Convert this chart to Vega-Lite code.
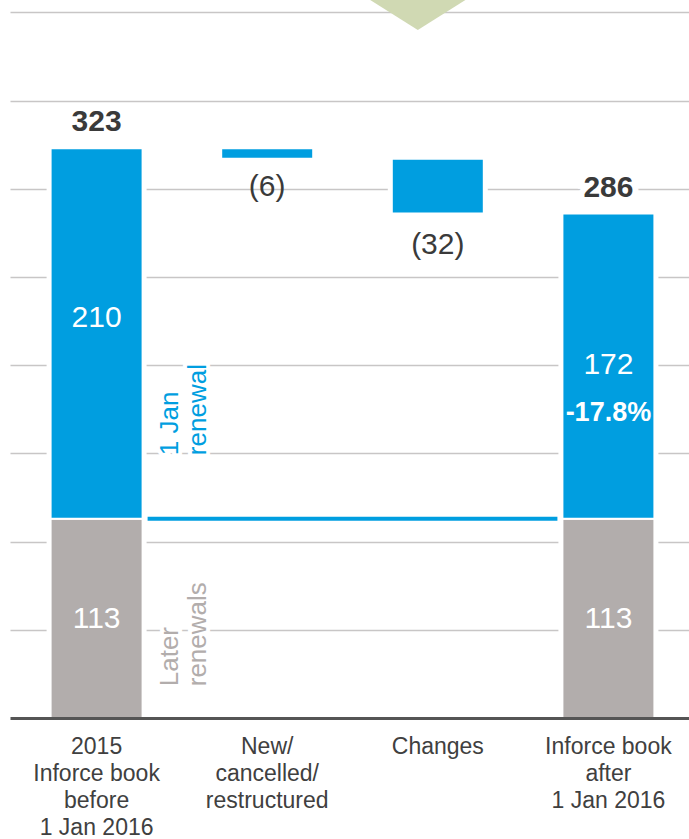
{
  "$schema": "https://vega.github.io/schema/vega-lite/v6.json",
  "width": 679,
  "height": 718,
  "autosize": {"type": "none"},
  "padding": {"left": 10, "top": 0, "right": 0, "bottom": 121},
  "background": "white",
  "config": {"view": {"stroke": null}, "font": "Liberation Sans"},
  "datasets": {
    "bars": [
      {"cat": "2015|Inforce book|before|1 Jan 2016", "part": "Later renewals", "start": 0, "end": 113},
      {"cat": "2015|Inforce book|before|1 Jan 2016", "part": "1 Jan renewal", "start": 113, "end": 323},
      {"cat": "New/|cancelled/|restructured", "part": "1 Jan renewal", "start": 317, "end": 323},
      {"cat": "Changes", "part": "1 Jan renewal", "start": 286, "end": 317},
      {"cat": "Inforce book|after|1 Jan 2016", "part": "Later renewals", "start": 0, "end": 113},
      {"cat": "Inforce book|after|1 Jan 2016", "part": "1 Jan renewal", "start": 113, "end": 286}
    ],
    "labels": [
      {"cat": "2015|Inforce book|before|1 Jan 2016", "text": "323", "at": 338, "style": "darkbold"},
      {"cat": "Inforce book|after|1 Jan 2016", "text": "286", "at": 300.5, "style": "darkbold"},
      {"cat": "New/|cancelled/|restructured", "text": "(6)", "at": 301, "style": "dark"},
      {"cat": "Changes", "text": "(32)", "at": 268, "style": "dark"},
      {"cat": "2015|Inforce book|before|1 Jan 2016", "text": "210", "at": 227, "style": "white"},
      {"cat": "2015|Inforce book|before|1 Jan 2016", "text": "113", "at": 56, "style": "white"},
      {"cat": "Inforce book|after|1 Jan 2016", "text": "172", "at": 200, "style": "white"},
      {"cat": "Inforce book|after|1 Jan 2016", "text": "113", "at": 56, "style": "white"},
      {"cat": "Inforce book|after|1 Jan 2016", "text": "-17.8%", "at": 173, "style": "whitebold"}
    ],
    "side": [
      {"cat": "2015|Inforce book|before|1 Jan 2016", "text": "1 Jan\nrenewal", "at": 149, "part": "1 Jan renewal"},
      {"cat": "2015|Inforce book|before|1 Jan 2016", "text": "Later\nrenewals", "at": 18, "part": "Later renewals"}
    ],
    "link": [
      {"from": "2015|Inforce book|before|1 Jan 2016", "to": "Inforce book|after|1 Jan 2016", "v": 113}
    ],
    "marker": [
      {"cat": "Changes", "at": 390}
    ]
  },
  "encoding": {
    "x": {
      "field": "cat",
      "type": "nominal",
      "scale": {
        "domain": ["2015|Inforce book|before|1 Jan 2016", "New/|cancelled/|restructured", "Changes", "Inforce book|after|1 Jan 2016"],
        "paddingInner": 0.46,
        "paddingOuter": 0.22,
        "align": 0.54
      },
      "axis": {
        "title": null,
        "orient": "bottom",
        "domain": true,
        "domainColor": "#555555",
        "domainWidth": 3,
        "ticks": false,
        "labelAngle": 0,
        "labelFontSize": 23,
        "labelColor": "#404040",
        "labelPadding": 17,
        "labelLineHeight": 27,
        "labelLimit": 300,
        "labelBaseline": "top",
        "labelExpr": "split(datum.value, '|')",
        "zindex": 1
      }
    }
  },
  "layer": [
    {
      "data": {"name": "bars"},
      "mark": {"type": "bar", "width": 100, "fill": "white"},
      "encoding": {
        "y": {
          "field": "start",
          "type": "quantitative",
          "scale": {"domain": [0, 407], "nice": false, "zero": true},
          "axis": {
            "title": null,
            "domain": false,
            "ticks": false,
            "labels": false,
            "grid": true,
            "values": [50, 100, 150, 200, 250, 300, 350, 400],
            "gridColor": "#c8c6c6",
            "gridWidth": 1.5
          }
        },
        "y2": {"field": "end"}
      }
    },
    {
      "data": {"name": "bars"},
      "mark": {"type": "bar", "width": 92, "stroke": "white", "strokeWidth": 2},
      "encoding": {
        "y": {"field": "start", "type": "quantitative"},
        "y2": {"field": "end"},
        "color": {
          "field": "part",
          "type": "nominal",
          "scale": {"domain": ["1 Jan renewal", "Later renewals"], "range": ["#009ee0", "#b2adac"]},
          "legend": null
        }
      }
    },
    {
      "data": {"name": "link"},
      "mark": {"type": "rule", "stroke": "#009ee0", "strokeWidth": 4, "strokeCap": "butt", "xOffset": 51, "x2Offset": -51},
      "encoding": {
        "x": {"field": "from", "type": "nominal"},
        "x2": {"field": "to"},
        "y": {"field": "v", "type": "quantitative"}
      }
    },
    {
      "data": {"name": "side"},
      "mark": {"type": "text", "angle": 270, "align": "left", "baseline": "top", "lineBreak": "\n", "lineHeight": 28, "fontSize": 26, "xOffset": 60, "fill": "white", "stroke": "white", "strokeWidth": 8},
      "encoding": {
        "y": {"field": "at", "type": "quantitative"},
        "text": {"field": "text"}
      }
    },
    {
      "data": {"name": "side"},
      "mark": {"type": "text", "angle": 270, "align": "left", "baseline": "top", "lineBreak": "\n", "lineHeight": 28, "fontSize": 26, "xOffset": 60},
      "encoding": {
        "y": {"field": "at", "type": "quantitative"},
        "text": {"field": "text"},
        "color": {"field": "part", "type": "nominal"}
      }
    },
    {
      "data": {"name": "labels"},
      "transform": [{"filter": "datum.style == 'darkbold'"}],
      "mark": {"type": "text", "fontSize": 30, "fontWeight": "bold", "baseline": "middle", "fill": "white", "stroke": "white", "strokeWidth": 12},
      "encoding": {
        "y": {"field": "at", "type": "quantitative"},
        "text": {"field": "text"}
      }
    },
    {
      "data": {"name": "labels"},
      "transform": [{"filter": "datum.style == 'darkbold'"}],
      "mark": {"type": "text", "fontSize": 30, "fontWeight": "bold", "baseline": "middle", "fill": "#3a3a3a"},
      "encoding": {
        "y": {"field": "at", "type": "quantitative"},
        "text": {"field": "text"}
      }
    },
    {
      "data": {"name": "labels"},
      "transform": [{"filter": "datum.style == 'dark'"}],
      "mark": {"type": "text", "fontSize": 30, "baseline": "middle", "fill": "#3a3a3a"},
      "encoding": {
        "y": {"field": "at", "type": "quantitative"},
        "text": {"field": "text"}
      }
    },
    {
      "data": {"name": "labels"},
      "transform": [{"filter": "datum.style == 'white'"}],
      "mark": {"type": "text", "fontSize": 30, "baseline": "middle", "fill": "white"},
      "encoding": {
        "y": {"field": "at", "type": "quantitative"},
        "text": {"field": "text"}
      }
    },
    {
      "data": {"name": "labels"},
      "transform": [{"filter": "datum.style == 'whitebold'"}],
      "mark": {"type": "text", "fontSize": 27, "fontWeight": "bold", "baseline": "middle", "fill": "white"},
      "encoding": {
        "y": {"field": "at", "type": "quantitative"},
        "text": {"field": "text"}
      }
    },
    {
      "data": {"name": "marker"},
      "mark": {"type": "point", "shape": "M-2,-1.26L2,-1.26L0,0Z", "size": 9025, "filled": true, "fill": "#d0d9b3", "opacity": 1, "strokeWidth": 0, "xOffset": -20},
      "encoding": {
        "y": {"field": "at", "type": "quantitative"}
      }
    }
  ]
}
